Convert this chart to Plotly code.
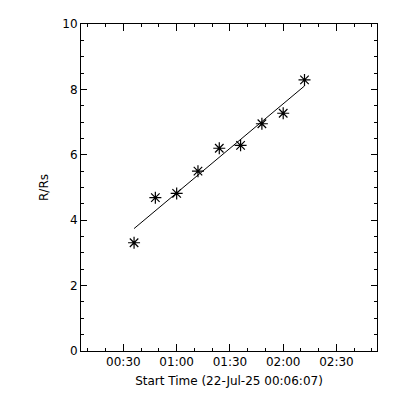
import numpy as np
import plotly.graph_objects as go

# Data
times = ["2025-07-22 00:36:00", "2025-07-22 00:48:00", "2025-07-22 01:00:00",
         "2025-07-22 01:12:00", "2025-07-22 01:24:00", "2025-07-22 01:36:00",
         "2025-07-22 01:48:00", "2025-07-22 02:00:00", "2025-07-22 02:12:00"]
r_rs = [3.31, 4.69, 4.82, 5.50, 6.20, 6.29, 6.95, 7.27, 8.29]
x_ticks = ["2025-07-22 00:30", "2025-07-22 01:00", "2025-07-22 01:30",
           "2025-07-22 02:00", "2025-07-22 02:30"]
x_tick_labels = ["00:30", "01:00", "01:30", "02:00", "02:30"]
x_range = ["2025-07-22 00:06:07", "2025-07-22 02:52:50"]
y_ticks = [0, 2, 4, 6, 8, 10]

# linear fit of R/Rs vs time (minutes)
t_min = np.array([int(t[11:13]) * 60 + int(t[14:16]) for t in times], dtype=float)
coef = np.polyfit(t_min, np.array(r_rs), 1)
fit_vals = [float(np.polyval(coef, t_min[0])), float(np.polyval(coef, t_min[-1]))]
fit_times = [times[0], times[-1]]

font = dict(family="DejaVu Sans", size=12, color="black")

fig = go.Figure()
fig.add_trace(go.Scatter(x=fit_times, y=fit_vals, mode="lines",
                         line=dict(color="black", width=1), showlegend=False))
fig.add_trace(go.Scatter(x=times, y=r_rs, mode="markers",
                         marker=dict(symbol="asterisk-open", size=10, color="black",
                                     line=dict(color="black", width=1.2)),
                         showlegend=False))

axis_common = dict(showgrid=False, zeroline=False, showline=True, linecolor="black",
                   linewidth=1, mirror="allticks", ticks="inside", tickcolor="black",
                   tickwidth=1, tickfont=font, automargin=False)

fig.update_xaxes(type="date", range=x_range, tickmode="array", tickvals=x_ticks,
                 ticktext=x_tick_labels, ticklen=7,
                 minor=dict(ticks="inside", dtick=600000, tick0="2025-07-22 00:00",
                            ticklen=3, tickcolor="black", showgrid=False),
                 title=dict(text="Start Time (22-Jul-25 00:06:07)", font=font, standoff=8),
                 **axis_common)
fig.update_yaxes(range=[0, 10], tickmode="array", tickvals=y_ticks, ticklen=6,
                 minor=dict(ticks="inside", dtick=0.5, ticklen=3, tickcolor="black",
                            showgrid=False),
                 title=dict(text="R/Rs", font=font, standoff=11),
                 **axis_common)

fig.update_layout(width=392, height=392, margin=dict(l=73, r=23, t=16, b=49),
                  paper_bgcolor="white", plot_bgcolor="white", font=font)

fig.write_html("out.html")
